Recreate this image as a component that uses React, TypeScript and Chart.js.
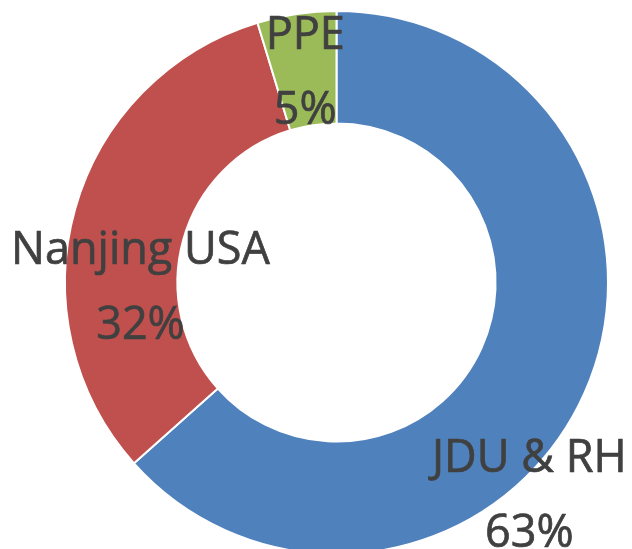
import React, { useEffect, useRef } from "react";
import { Chart, registerables } from "chart.js";

Chart.register(...registerables);

const categories = ["JDU & RH", "Nanjing USA", "PPE"];
const shares = [63.4, 31.9, 4.7];
const sliceColors = ["#4F81BD", "#C0504D", "#9BBB59"];
// label anchor offsets, as fractions of the outer radius, relative to the ring centre
const labelAnchors = [
  [0.71, 0.778],
  [-0.722, 0.013],
  [-0.115, -0.78],
];

const labelPlugin = {
  id: "sliceLabels",
  afterDatasetsDraw(chart: any) {
    const meta = chart.getDatasetMeta(0);
    const ctx = chart.ctx;
    const data = chart.data.datasets[0].data as number[];
    const total = data.reduce((a, b) => a + b, 0);
    ctx.save();
    ctx.fillStyle = "#404040";
    ctx.strokeStyle = "#404040";
    ctx.lineWidth = 0.7;
    ctx.lineJoin = "round";
    ctx.font = "45px 'Open Sans', 'Noto Sans', sans-serif";
    ctx.textAlign = "center";
    ctx.textBaseline = "alphabetic";
    meta.data.forEach((arc: any, i: number) => {
      const r = arc.outerRadius;
      const cx = arc.x + labelAnchors[i][0] * r;
      const cy = arc.y + labelAnchors[i][1] * r;
      const pct = Math.round((data[i] / total) * 100) + "%";
      const name = chart.data.labels[i];
      ctx.fillText(name, cx, cy - 22);
      ctx.strokeText(name, cx, cy - 22);
      ctx.fillText(pct, cx, cy - 22 + 75);
      ctx.strokeText(pct, cx, cy - 22 + 75);
    });
    ctx.restore();
  },
};

export default function App() {
  const ref = useRef<HTMLCanvasElement>(null);
  useEffect(() => {
    if (!ref.current) return;
    const chart = new Chart(ref.current, {
      type: "doughnut",
      data: {
        labels: categories,
        datasets: [
          {
            data: shares,
            backgroundColor: sliceColors,
            borderColor: "#FFFFFF",
            borderWidth: 2,
          },
        ],
      },
      options: {
        responsive: false,
        animation: false,
        devicePixelRatio: 1,
        cutout: "58.6%",
        layout: { padding: { left: 64, right: 23, top: 10, bottom: 10 } },
        plugins: {
          legend: { display: false },
          tooltip: { enabled: false },
        },
      },
      plugins: [labelPlugin],
    });
    return () => chart.destroy();
  }, []);
  return (
    <div
      style={{
        position: "fixed",
        left: 0,
        top: 0,
        width: 632,
        height: 549,
        overflow: "hidden",
        background: "#FFFFFF",
      }}
    >
      <canvas ref={ref} width={632} height={565} style={{ display: "block" }} />
    </div>
  );
}
